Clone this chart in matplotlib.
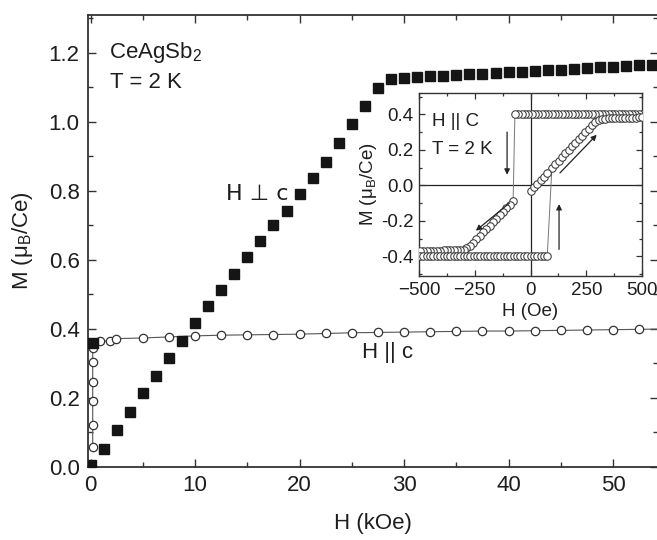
import matplotlib
matplotlib.use('Agg')
import matplotlib.pyplot as plt
from matplotlib.ticker import MultipleLocator, FormatStrFormatter

plt.rcParams['font.family'] = ['Liberation Sans', 'DejaVu Sans']
plt.rcParams['mathtext.fontset'] = 'custom'
plt.rcParams['mathtext.rm'] = 'Liberation Sans'
plt.rcParams['mathtext.it'] = 'Liberation Sans:italic'

# ---------------- main panel data (H in kOe, M in muB/Ce) ----------------
perp_H = [0.0, 0.2, 1.25, 2.5, 3.75, 5.0, 6.25, 7.5, 8.75, 10.0, 11.25, 12.5, 13.75,
          15.0, 16.25, 17.5, 18.75, 20.0, 21.25, 22.5, 23.75, 25.0, 26.25, 27.5,
          28.75, 30.0, 31.25, 32.5, 33.75, 35.0, 36.25, 37.5, 38.75, 40.0, 41.25,
          42.5, 43.75, 45.0, 46.25, 47.5, 48.75, 50.0, 51.25, 52.5, 53.75]
perp_M = [0.005, 0.36, 0.052, 0.107, 0.160, 0.214, 0.264, 0.316, 0.365, 0.417, 0.467,
          0.513, 0.560, 0.609, 0.655, 0.700, 0.743, 0.790, 0.837, 0.885, 0.940,
          0.994, 1.046, 1.099, 1.125, 1.128, 1.130, 1.132, 1.134, 1.136, 1.138,
          1.140, 1.142, 1.144, 1.146, 1.148, 1.150, 1.152, 1.154, 1.156, 1.158,
          1.160, 1.162, 1.164, 1.166]

par_H = [0.2, 0.2, 0.2, 0.2, 0.2, 0.2, 0.9, 1.9, 2.4, 5.0, 7.5, 10.0, 12.5,
         15.0, 17.5, 20.0, 22.5, 25.0, 27.5, 30.0, 32.5, 35.0, 37.5, 40.0, 42.5,
         45.0, 47.5, 50.0, 52.5, 55.0]
par_M = [0.058, 0.122, 0.190, 0.247, 0.305, 0.345, 0.365, 0.365, 0.372, 0.374,
         0.377, 0.380, 0.382, 0.383, 0.384, 0.385, 0.387, 0.389, 0.390, 0.391,
         0.392, 0.393, 0.394, 0.394, 0.395, 0.396, 0.397, 0.398, 0.399, 0.400]

x_ticks = [0, 10, 20, 30, 40, 50]
y_ticks = [0.0, 0.2, 0.4, 0.6, 0.8, 1.0, 1.2]

# ---------------- inset data (H in Oe, M in muB/Ce) ----------------
# field decreasing from +500 Oe
dec_H = [500, 485, 470, 455, 440, 425, 410, 395, 380, 365, 350, 335, 320, 305, 290,
         275, 260, 245, 230, 215, 200, 185, 170, 155, 140, 125, 110, 95, 80, 65, 50,
         35, 20, 5, -10, -25, -40, -55, -70,
         -78, -93, -108, -123, -138, -153, -168, -183, -198, -213, -228, -243, -258,
         -273, -288,
         -300, -315, -330, -345, -360, -375, -390, -405, -420, -435, -450, -465,
         -480, -495]
dec_M = [0.40, 0.40, 0.40, 0.40, 0.40, 0.40, 0.40, 0.40, 0.40, 0.40, 0.40, 0.40,
         0.40, 0.40, 0.40, 0.40, 0.40, 0.40, 0.40, 0.40, 0.40, 0.40, 0.40, 0.40,
         0.40, 0.40, 0.40, 0.40, 0.40, 0.40, 0.40, 0.40, 0.40, 0.40, 0.40, 0.40,
         0.40, 0.40, 0.40,
         -0.090, -0.109, -0.129, -0.148, -0.168, -0.187, -0.206, -0.226, -0.245,
         -0.264, -0.284, -0.303, -0.322, -0.342, -0.355,
         -0.362, -0.364, -0.365, -0.365, -0.366, -0.366, -0.366, -0.367, -0.367,
         -0.367, -0.368, -0.368, -0.368, -0.368]
# field increasing from -500 Oe
inc_H = [-495, -480, -465, -450, -435, -420, -405, -390, -375, -360, -345, -330,
         -315, -300, -285, -270, -255, -240, -225, -210, -195, -180, -165, -150,
         -135, -120, -105, -90, -75, -60, -45, -30, -15, 0, 15, 30, 45, 60, 75,
         96, 111, 126, 141, 156, 171, 186, 201, 216, 231, 246, 261, 276, 291,
         306, 321, 336, 351, 366, 381, 396, 411, 426, 441, 456, 471, 486, 500]
inc_M = [-0.40, -0.40, -0.40, -0.40, -0.40, -0.40, -0.40, -0.40, -0.40, -0.40,
         -0.40, -0.40, -0.40, -0.40, -0.40, -0.40, -0.40, -0.40, -0.40, -0.40,
         -0.40, -0.40, -0.40, -0.40, -0.40, -0.40, -0.40, -0.40, -0.40, -0.40,
         -0.40, -0.40, -0.40, -0.40, -0.40, -0.40, -0.40, -0.40, -0.40,
         0.100, 0.120, 0.140, 0.160, 0.180, 0.200, 0.220, 0.240, 0.260, 0.280,
         0.300, 0.320, 0.340, 0.358,
         0.368, 0.372, 0.375, 0.377, 0.378, 0.379, 0.380, 0.380, 0.381, 0.381,
         0.382, 0.382, 0.383, 0.383]
# initial curve from the origin
vir_H = [0, 15, 30, 45, 60, 75]
vir_M = [-0.030, -0.010, 0.010, 0.030, 0.050, 0.070]

in_x_ticks = [-500, -250, 0, 250, 500]
in_y_ticks = [-0.4, -0.2, 0.0, 0.2, 0.4]

TXT = '#1e1e1e'
W, Hh = 657, 540

fig = plt.figure(figsize=(W / 100, Hh / 100), dpi=100)
ax = fig.add_axes([88 / W, (Hh - 467) / Hh, (658 - 88) / W, (467 - 15) / Hh])

ax.plot(par_H, par_M, '-', color='#555555', lw=0.8, zorder=2)
ax.plot(par_H, par_M, 'o', ms=6, mfc='white', mec='#333333', mew=0.9, zorder=3,
        clip_on=False)
ax.plot(perp_H, perp_M, 's', ms=7, color='#151515', zorder=4)

ax.set_xlim(-0.25, 54.3)
ax.set_ylim(0, 1.31)
ax.set_xticks(x_ticks)
ax.set_yticks(y_ticks)
ax.xaxis.set_minor_locator(MultipleLocator(5))
ax.yaxis.set_minor_locator(MultipleLocator(0.1))
ax.yaxis.set_major_formatter(FormatStrFormatter('%.1f'))
ax.tick_params(which='both', direction='in', top=True, right=True, colors='#333333',
               labelcolor=TXT, labelsize=16, width=1.0)
ax.tick_params(which='major', length=6, pad=6)
ax.tick_params(which='minor', length=3.5)
for s in ax.spines.values():
    s.set_linewidth(1.3)
    s.set_color('#333333')

ax.set_xlabel('H (kOe)', fontsize=16, color=TXT, labelpad=12)
ax.set_ylabel('M (μ$_\\mathregular{B}$/Ce)', fontsize=16, color=TXT, labelpad=10)

ax.text(1.8, 1.2, 'CeAgSb$_\\mathregular{2}$', fontsize=16, color=TXT, va='center')
ax.text(1.9, 1.113, 'T = 2 K', fontsize=16, color=TXT, va='center')
ax.text(18.9, 0.79, 'H ⊥ c', fontsize=16, color=TXT, va='center', ha='right',
        family=['DejaVu Sans'])
ax.text(26.0, 0.333, 'H || c', fontsize=16, color=TXT, va='center', ha='left')

# ---------------- inset ----------------
ins = fig.add_axes([419 / W, (Hh - 276) / Hh, (642 - 419) / W, (276 - 93) / Hh])
ins.axhline(0, color='#222222', lw=0.9, zorder=1)
ins.axvline(0, color='#222222', lw=0.9, zorder=1)
mk = dict(marker='o', ms=5.4, mfc='white', mec='#3a3a3a', mew=0.75,
          color='#777777', lw=0.7)
ins.plot(dec_H, dec_M, **mk, zorder=3)
ins.plot(inc_H, inc_M, **mk, zorder=3)
ins.plot(vir_H, vir_M, **mk, zorder=3)

arr = dict(arrowstyle='-|>', lw=0.9, color='#222222', mutation_scale=8,
           shrinkA=0, shrinkB=0)
ins.annotate('', xy=(-105, 0.06), xytext=(-105, 0.30), arrowprops=arr)
ins.annotate('', xy=(128, -0.105), xytext=(128, -0.36), arrowprops=arr)
ins.annotate('', xy=(297, 0.285), xytext=(132, 0.07), arrowprops=arr)
ins.annotate('', xy=(-245, -0.255), xytext=(-95, -0.10), arrowprops=arr)

ins.set_xlim(-500, 500)
ins.set_ylim(-0.51, 0.52)
ins.set_xticks(in_x_ticks)
ins.set_yticks(in_y_ticks)
ins.xaxis.set_minor_locator(MultipleLocator(125))
ins.yaxis.set_minor_locator(MultipleLocator(0.1))
ins.yaxis.set_major_formatter(FormatStrFormatter('%.1f'))
ins.tick_params(which='both', direction='in', top=True, right=True, colors='#333333',
                labelcolor=TXT, labelsize=13.5, width=0.9)
ins.tick_params(which='major', length=4, pad=4)
ins.tick_params(which='minor', length=2.5)
for s in ins.spines.values():
    s.set_linewidth(1.0)
    s.set_color('#333333')
ins.set_xlabel('H (Oe)', fontsize=13.5, color=TXT, labelpad=3)
ins.set_ylabel('M (μ$_\\mathregular{B}$/Ce)', fontsize=13.5, color=TXT, labelpad=1)
ins.text(-440, 0.36, 'H || C', fontsize=13.5, color=TXT, va='center')
ins.text(-440, 0.20, 'T = 2 K', fontsize=13.5, color=TXT, va='center')

fig.savefig('out.png', dpi=100)
